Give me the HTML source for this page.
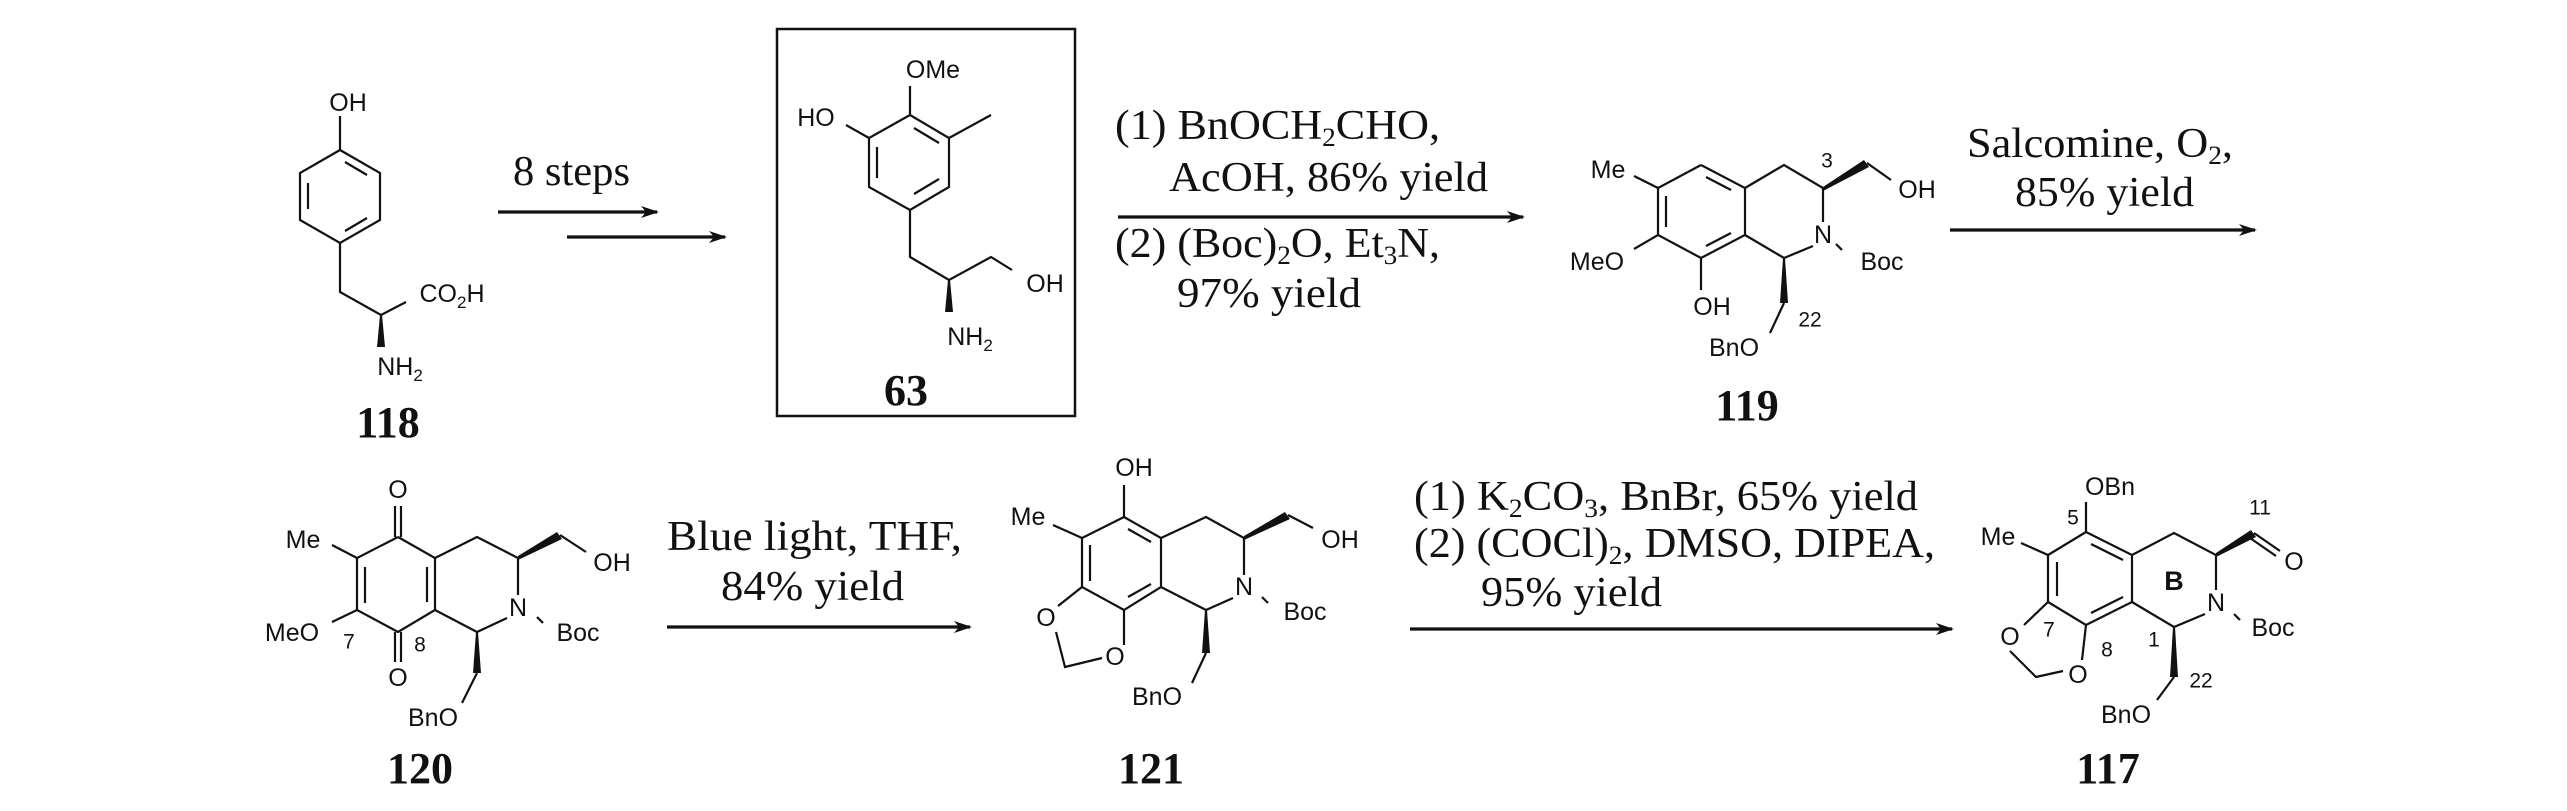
<!DOCTYPE html>
<html><head><meta charset="utf-8"><style>
html,body{margin:0;padding:0;background:#fff;}
svg{display:block;}
.a{font-family:"Liberation Sans",sans-serif;font-size:25px;fill:#111;dominant-baseline:central;text-anchor:middle;}
.n{font-family:"Liberation Sans",sans-serif;font-size:21px;fill:#111;dominant-baseline:central;text-anchor:middle;}
.r{font-family:"Liberation Serif",serif;font-size:42px;fill:#111;}
.c{font-family:"Liberation Serif",serif;font-size:44px;font-weight:bold;fill:#111;text-anchor:middle;}
line,polyline{stroke:#111;stroke-width:2.2;fill:none;}
.ar{stroke-width:3.2;}
</style></head><body>
<svg width="2567" height="811" viewBox="0 0 2567 811" xmlns="http://www.w3.org/2000/svg">
<defs><marker id="h" markerWidth="18" markerHeight="12" refX="16" refY="6" orient="auto" markerUnits="userSpaceOnUse" viewBox="0 0 18 12"><path d="M0,0 L18,6 L0,12 L5,6 Z" fill="#111"/></marker></defs>

<!-- 118 -->
<text class="a" x="348" y="103">OH</text>
<line x1="340" y1="116" x2="340" y2="150"/>
<polyline points="340,150 380,173 380,220 340,243 300,220 300,173 340,150"/>
<line x1="345" y1="162" x2="367" y2="175"/><line x1="367" y1="218" x2="345" y2="231"/><line x1="308" y1="183" x2="308" y2="209"/>
<polyline points="340,243 340,292 381,315 406,302"/>
<text class="a" x="452" y="294">CO<tspan font-size="17" dy="8">2</tspan><tspan dy="-8">H</tspan></text>
<polygon points="380,315 382,315 385,347 377,347" fill="#111"/>
<text class="a" x="400" y="367">NH<tspan font-size="17" dy="8">2</tspan></text>
<text class="c" x="388" y="437">118</text>

<text class="r" x="513" y="185" textLength="117" lengthAdjust="spacingAndGlyphs">8 steps</text>
<line class="ar" x1="498" y1="212" x2="657" y2="212" marker-end="url(#h)"/>
<line class="ar" x1="567" y1="237" x2="725" y2="237" marker-end="url(#h)"/>

<!-- 63 -->
<rect x="777" y="29" width="298" height="387" fill="none" stroke="#111" stroke-width="2.5"/>
<text class="a" x="933" y="70">OMe</text>
<line x1="910" y1="86" x2="910" y2="115"/>
<polyline points="910,115 949,138 949,187 910,210 869,187 869,138 910,115"/>
<line x1="914" y1="128" x2="939" y2="143"/><line x1="939" y1="179" x2="914" y2="194"/><line x1="877" y1="147" x2="877" y2="178"/>
<line x1="949" y1="138" x2="991" y2="115"/>
<line x1="869" y1="138" x2="846" y2="125"/>
<text class="a" x="816" y="118">HO</text>
<polyline points="910,210 910,257 949,280 991,257 1012,270"/>
<text class="a" x="1045" y="284">OH</text>
<polygon points="948,280 950,280 953,312 945,312" fill="#111"/>
<text class="a" x="970" y="337">NH<tspan font-size="17" dy="8">2</tspan></text>
<text class="c" x="906" y="405">63</text>

<!-- reagents 1 -->
<text class="r" x="1115" y="139" textLength="325" lengthAdjust="spacingAndGlyphs">(1) BnOCH<tspan font-size="26" dy="7">2</tspan><tspan dy="-7">CHO,</tspan></text>
<text class="r" x="1169" y="191" textLength="319" lengthAdjust="spacingAndGlyphs">AcOH, 86% yield</text>
<line class="ar" x1="1118" y1="217" x2="1523" y2="217" marker-end="url(#h)"/>
<text class="r" x="1115" y="257" textLength="325" lengthAdjust="spacingAndGlyphs">(2) (Boc)<tspan font-size="26" dy="7">2</tspan><tspan dy="-7">O, Et</tspan><tspan font-size="26" dy="7">3</tspan><tspan dy="-7">N,</tspan></text>
<text class="r" x="1177" y="307" textLength="184" lengthAdjust="spacingAndGlyphs">97% yield</text>

<!-- 119 -->
<text class="a" x="1608" y="170">Me</text>
<line x1="1634" y1="176" x2="1658" y2="188"/>
<polyline points="1701,165 1745,188 1745,235 1701,258 1658,235 1658,188 1701,165"/>
<line x1="1706" y1="177" x2="1731" y2="190"/><line x1="1731" y1="233" x2="1706" y2="246"/><line x1="1666" y1="196" x2="1666" y2="227"/>
<polyline points="1745,188 1784,165 1823,188 1823,222"/>
<polyline points="1813,246 1784,258 1745,235"/>
<text class="a" x="1823" y="235">N</text>
<text class="n" x="1827" y="161">3</text>
<polygon points="1823,187 1823,191 1869,167 1864,160" fill="#111"/>
<line x1="1867" y1="163" x2="1891" y2="180"/>
<text class="a" x="1917" y="190">OH</text>
<line x1="1836" y1="244" x2="1842" y2="250"/>
<text class="a" x="1882" y="262">Boc</text>
<line x1="1658" y1="235" x2="1634" y2="249"/>
<text class="a" x="1597" y="262">MeO</text>
<line x1="1701" y1="258" x2="1701" y2="290"/>
<text class="a" x="1712" y="307">OH</text>
<polygon points="1783,258 1785,258 1788,303 1780,303" fill="#111"/>
<line x1="1784" y1="303" x2="1770" y2="333"/>
<text class="a" x="1734" y="348">BnO</text>
<text class="n" x="1810" y="320">22</text>
<text class="c" x="1747" y="420">119</text>

<text class="r" x="1967" y="157" textLength="266" lengthAdjust="spacingAndGlyphs">Salcomine, O<tspan font-size="26" dy="7">2</tspan><tspan dy="-7">,</tspan></text>
<text class="r" x="2015" y="206" textLength="179" lengthAdjust="spacingAndGlyphs">85% yield</text>
<line class="ar" x1="1950" y1="230" x2="2255" y2="230" marker-end="url(#h)"/>

<!-- 120 -->
<text class="a" x="398" y="490">O</text>
<line x1="395" y1="506" x2="395" y2="537"/><line x1="401" y1="506" x2="401" y2="537"/>
<polyline points="398,537 435,558 435,610 398,632 357,610 357,558 398,537"/>
<line x1="427" y1="567" x2="427" y2="602"/><line x1="365" y1="567" x2="365" y2="603"/>
<line x1="395" y1="632" x2="395" y2="662"/><line x1="401" y1="632" x2="401" y2="662"/>
<text class="a" x="398" y="678">O</text>
<text class="a" x="303" y="540">Me</text>
<line x1="332" y1="545" x2="357" y2="558"/>
<text class="a" x="292" y="633">MeO</text>
<line x1="332" y1="622" x2="357" y2="610"/>
<text class="n" x="349" y="642">7</text>
<text class="n" x="420" y="645">8</text>
<polyline points="435,558 477,537 518,558 518,595"/>
<polyline points="507,618 477,632 435,610"/>
<text class="a" x="518" y="608">N</text>
<polygon points="518,556 518,560 562,539 557,532" fill="#111"/>
<line x1="560" y1="535" x2="586" y2="552"/>
<text class="a" x="612" y="563">OH</text>
<line x1="537" y1="617" x2="543" y2="623"/>
<text class="a" x="578" y="633">Boc</text>
<polygon points="476,632 478,632 481,673 473,673" fill="#111"/>
<line x1="477" y1="673" x2="462" y2="703"/>
<text class="a" x="433" y="718">BnO</text>
<text class="c" x="420" y="783">120</text>

<text class="r" x="667" y="550" textLength="295" lengthAdjust="spacingAndGlyphs">Blue light, THF,</text>
<text class="r" x="721" y="600" textLength="183" lengthAdjust="spacingAndGlyphs">84% yield</text>
<line class="ar" x1="667" y1="627" x2="970" y2="627" marker-end="url(#h)"/>

<!-- 121 -->
<text class="a" x="1134" y="468">OH</text>
<line x1="1124" y1="485" x2="1124" y2="517"/>
<polyline points="1124,517 1161,538 1161,587 1124,610 1082,587 1082,538 1124,517"/>
<line x1="1128" y1="529" x2="1151" y2="542"/><line x1="1151" y1="584" x2="1128" y2="597"/><line x1="1090" y1="545" x2="1090" y2="581"/>
<text class="a" x="1028" y="517">Me</text>
<line x1="1053" y1="525" x2="1082" y2="538"/>
<line x1="1082" y1="587" x2="1058" y2="606"/>
<text class="a" x="1046" y="618">O</text>
<line x1="1124" y1="610" x2="1124" y2="645"/>
<text class="a" x="1115" y="657">O</text>
<polyline points="1056,632 1065,667 1102,658"/>
<polyline points="1161,538 1206,517 1244,538 1244,575"/>
<polyline points="1233,598 1206,610 1161,587"/>
<text class="a" x="1244" y="587">N</text>
<polygon points="1244,536 1244,540 1290,519 1285,512" fill="#111"/>
<line x1="1288" y1="515" x2="1313" y2="528"/>
<text class="a" x="1340" y="540">OH</text>
<line x1="1262" y1="597" x2="1268" y2="603"/>
<text class="a" x="1305" y="612">Boc</text>
<polygon points="1205,610 1207,610 1210,653 1202,653" fill="#111"/>
<line x1="1206" y1="653" x2="1192" y2="683"/>
<text class="a" x="1157" y="697">BnO</text>
<text class="c" x="1151" y="783">121</text>

<text class="r" x="1414" y="510" textLength="504" lengthAdjust="spacingAndGlyphs">(1) K<tspan font-size="26" dy="7">2</tspan><tspan dy="-7">CO</tspan><tspan font-size="26" dy="7">3</tspan><tspan dy="-7">, BnBr, 65% yield</tspan></text>
<text class="r" x="1414" y="557" textLength="521" lengthAdjust="spacingAndGlyphs">(2) (COCl)<tspan font-size="26" dy="7">2</tspan><tspan dy="-7">, DMSO, DIPEA,</tspan></text>
<text class="r" x="1481" y="606" textLength="181" lengthAdjust="spacingAndGlyphs">95% yield</text>
<line class="ar" x1="1410" y1="629" x2="1952" y2="629" marker-end="url(#h)"/>

<!-- 117 -->
<text class="a" x="2110" y="487">OBn</text>
<line x1="2086" y1="502" x2="2086" y2="532"/>
<text class="n" x="2073" y="518">5</text>
<polyline points="2086,532 2132,555 2132,602 2086,625 2048,602 2048,555 2086,532"/>
<line x1="2091" y1="544" x2="2123" y2="560"/><line x1="2123" y1="597" x2="2091" y2="613"/><line x1="2057" y1="562" x2="2057" y2="596"/>
<text class="a" x="1998" y="537">Me</text>
<line x1="2021" y1="543" x2="2048" y2="555"/>
<polyline points="2132,555 2174,533 2216,555 2216,590"/>
<polyline points="2205,614 2174,627 2132,602"/>
<text class="a" x="2216" y="603">N</text>
<text x="2174" y="590" font-family="Liberation Sans,sans-serif" font-weight="bold" font-size="27" text-anchor="middle" fill="#111">B</text>
<polygon points="2216,553 2216,557 2256,537 2251,530" fill="#111"/>
<line x1="2254" y1="533" x2="2280" y2="551"/><line x1="2250" y1="538" x2="2276" y2="556"/>
<text class="a" x="2294" y="562">O</text>
<text class="n" x="2260" y="508">11</text>
<line x1="2234" y1="614" x2="2240" y2="620"/>
<text class="a" x="2273" y="628">Boc</text>
<line x1="2048" y1="602" x2="2024" y2="625"/>
<text class="a" x="2010" y="637">O</text>
<text class="n" x="2049" y="630">7</text>
<line x1="2086" y1="625" x2="2082" y2="660"/>
<text class="a" x="2078" y="675">O</text>
<text class="n" x="2107" y="650">8</text>
<polyline points="2010,651 2036,677 2063,671"/>
<text class="n" x="2154" y="640">1</text>
<polygon points="2173,627 2175,627 2178,677 2170,677" fill="#111"/>
<line x1="2174" y1="677" x2="2157" y2="700"/>
<text class="n" x="2201" y="681">22</text>
<text class="a" x="2126" y="715">BnO</text>
<text class="c" x="2108" y="783">117</text>
</svg>
</body></html>
